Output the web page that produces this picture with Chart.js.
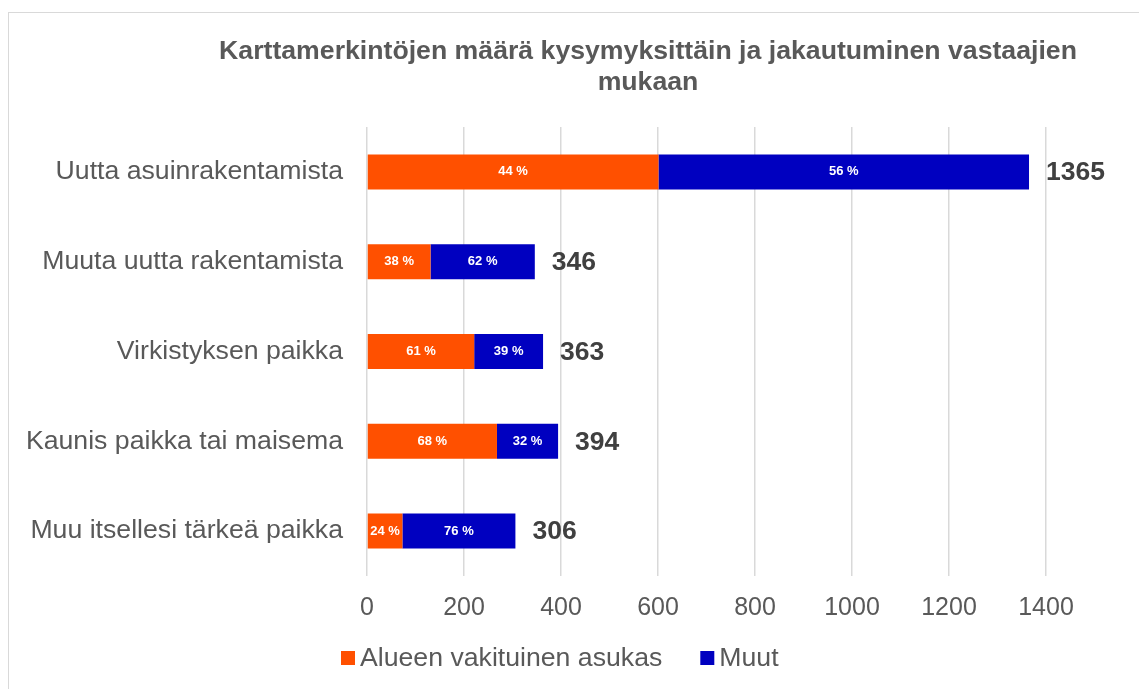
<!DOCTYPE html>
<html>
<head>
<meta charset="utf-8">
<script src="https://cdn.jsdelivr.net/npm/chart.js@4"></script>
<style>
  html, body { margin: 0; padding: 0; background: #fff; }
  #wrap { position: relative; width: 1139px; height: 689px; overflow: hidden; }
  #frame { position: absolute; left: 8px; top: 12px; width: 1140px; height: 700px; border: 1px solid #d9d9d9; box-sizing: border-box; }
  canvas { position: absolute; left: 0; top: 0; }
</style>
</head>
<body>
<div id="wrap">
  <div id="frame"></div>
  <canvas id="chart" width="1139" height="689"></canvas>
</div>
<script>
// categories and values
const categories = ['Uutta asuinrakentamista', 'Muuta uutta rakentamista', 'Virkistyksen paikka', 'Kaunis paikka tai maisema', 'Muu itsellesi tärkeä paikka'];
const totals = [1365, 346, 363, 394, 306];
const residents = [601, 131, 221, 268, 73];
const others = [764, 215, 142, 126, 233];
const residentPct = [44, 38, 61, 68, 24];
const otherPct = [56, 62, 39, 32, 76];
const xTicks = [0, 200, 400, 600, 800, 1000, 1200, 1400];
const titleLines = ['Karttamerkintöjen määrä kysymyksittäin ja jakautuminen vastaajien', 'mukaan'];

const textGrey = '#595959';
const fontFamily = '"Liberation Sans", Arial, sans-serif';

// title, percent labels, totals and legend drawn on the canvas
const labelPlugin = {
    id: 'barLabels',
    afterDatasetsDraw(chart) {
        const ctx = chart.ctx;
        const pcts = [residentPct, otherPct];
        ctx.save();
        ctx.textBaseline = 'middle';
        chart.data.datasets.forEach(function (ds, i) {
            chart.getDatasetMeta(i).data.forEach(function (bar, j) {
                ctx.fillStyle = '#ffffff';
                ctx.font = 'bold 13px ' + fontFamily;
                ctx.textAlign = 'center';
                ctx.fillText(pcts[i][j] + ' %', (bar.base + bar.x) / 2, bar.y);
            });
        });
        const last = chart.getDatasetMeta(1).data;
        ctx.fillStyle = '#404040';
        ctx.font = 'bold 26.5px ' + fontFamily;
        ctx.textAlign = 'left';
        last.forEach(function (bar, j) {
            ctx.fillText(String(totals[j]), bar.x + 17, bar.y + 1);
        });

        // title
        ctx.fillStyle = textGrey;
        ctx.font = 'bold 26.67px ' + fontFamily;
        ctx.textAlign = 'center';
        ctx.textBaseline = 'alphabetic';
        ctx.fillText(titleLines[0], 648, 59);
        ctx.fillText(titleLines[1], 648, 90);

        // legend
        ctx.font = '26.67px ' + fontFamily;
        ctx.textAlign = 'left';
        ctx.textBaseline = 'middle';
        let x = 341;
        chart.data.datasets.forEach(function (ds) {
            ctx.fillStyle = ds.backgroundColor;
            ctx.fillRect(x, 651, 14, 14);
            x += 19;
            ctx.fillStyle = textGrey;
            ctx.fillText(ds.label, x, 659);
            x += ctx.measureText(ds.label).width + 38;
        });
        ctx.restore();
    }
};

new Chart(document.getElementById('chart'), {
    type: 'bar',
    data: {
        labels: categories,
        datasets: [{
            label: 'Alueen vakituinen asukas',
            data: residents,
            backgroundColor: '#ff5000'
        }, {
            label: 'Muut',
            data: others,
            backgroundColor: '#0000c0'
        }]
    },
    options: {
        indexAxis: 'y',
        responsive: false,
        animation: false,
        barPercentage: 0.78,
        categoryPercentage: 0.5,
        layout: { padding: { left: 0, right: 93, top: 127, bottom: 73 } },
        scales: {
            x: {
                stacked: true,
                min: 0,
                max: 1400,
                afterBuildTicks(scale) { scale.ticks = xTicks.map(v => ({ value: v })); },
                afterFit(scale) { scale.height = 40; },
                grid: { color: '#d9d9d9', lineWidth: 1.5, drawTicks: false },
                border: { display: false },
                ticks: {
                    color: textGrey,
                    padding: 17,
                    callback: v => String(v),
                    font: { family: fontFamily, size: 25 }
                }
            },
            y: {
                stacked: true,
                afterFit(scale) { scale.width = 367; },
                grid: { display: false },
                border: { display: false },
                ticks: {
                    color: textGrey,
                    padding: 16,
                    font: { family: fontFamily, size: 26.67 }
                }
            }
        },
        plugins: {
            title: { display: false },
            legend: { display: false },
            tooltip: { enabled: false }
        }
    },
    plugins: [labelPlugin]
});
</script>
</body>
</html>
